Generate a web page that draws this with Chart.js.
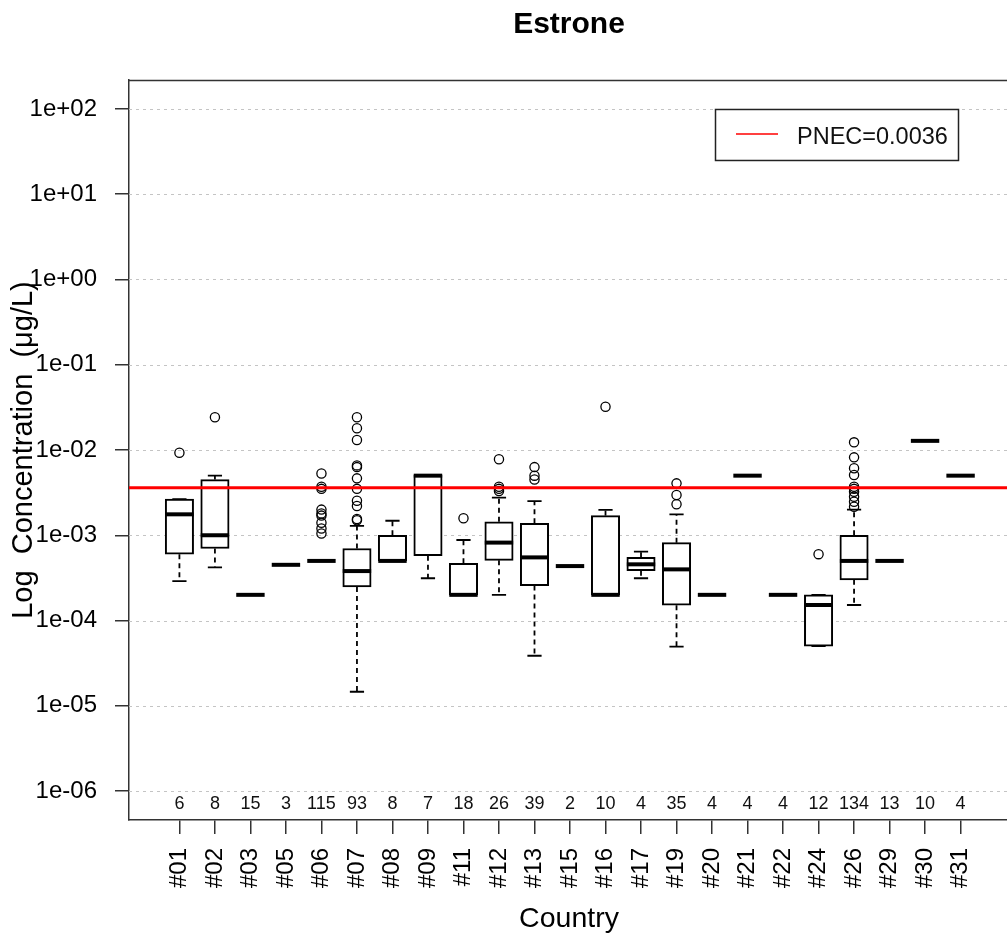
<!DOCTYPE html>
<html><head><meta charset="utf-8">
<script src="https://cdn.jsdelivr.net/npm/chart.js@4/dist/chart.umd.min.js"></script>
<style>html,body{margin:0;padding:0;background:#fff;overflow:hidden;}canvas{display:block;}</style>
</head><body>
<canvas id="c" width="1020" height="936"></canvas>
<script>
const categories = ['#01','#02','#03','#05','#06','#07','#08','#09','#11','#12','#13','#15','#16','#17','#19','#20','#21','#22','#24','#26','#29','#30','#31'];
const counts = [6,8,15,3,115,93,8,7,18,26,39,2,10,4,35,4,4,4,12,134,13,10,4];
const whiskerLow  = [2.9e-4,4.2e-4,2.0e-4,4.5e-4,5.0e-4,1.46e-5,5.0e-4,3.13e-4,2.0e-4,2.0e-4,3.86e-5,4.35e-4,2.0e-4,3.13e-4,4.93e-5,2.0e-4,5.0e-3,2.0e-4,5.0e-5,1.52e-4,5.0e-4,1.28e-2,5.0e-3];
const q1          = [6.0e-4,7.0e-4,2.0e-4,4.5e-4,5.0e-4,2.47e-4,5.0e-4,5.75e-4,2.0e-4,5.08e-4,2.57e-4,4.35e-4,2.0e-4,3.84e-4,1.51e-4,2.0e-4,5.0e-3,2.0e-4,5.0e-5,3.0e-4,5.0e-4,1.28e-2,5.0e-3];
const median      = [1.76e-3,1.0e-3,2.0e-4,4.5e-4,5.0e-4,3.8e-4,5.0e-4,5.0e-3,2.0e-4,8.2e-4,5.5e-4,4.35e-4,2.0e-4,4.56e-4,3.98e-4,2.0e-4,5.0e-3,2.0e-4,1.52e-4,5.0e-4,5.0e-4,1.28e-2,5.0e-3];
const q3          = [2.66e-3,4.5e-3,2.0e-4,4.5e-4,5.0e-4,7.0e-4,1.0e-3,5.1e-3,4.68e-4,1.44e-3,1.38e-3,4.35e-4,1.7e-3,5.51e-4,8.18e-4,2.0e-4,5.0e-3,2.0e-4,2.0e-4,1.0e-3,5.0e-4,1.28e-2,5.0e-3];
const whiskerHigh = [2.66e-3,5.0e-3,2.0e-4,4.5e-4,5.0e-4,1.29e-3,1.48e-3,5.1e-3,8.8e-4,2.76e-3,2.52e-3,4.35e-4,1.98e-3,6.41e-4,1.76e-3,2.0e-4,5.0e-3,2.0e-4,2.0e-4,2.0e-3,5.0e-4,1.28e-2,5.0e-3];
const outliers = [
  [9.3e-3],
  [2.42e-2],
  [],
  [],
  [5.3e-3,3.7e-3,3.5e-3,2.0e-3,1.8e-3,1.7e-3,1.4e-3,1.2e-3,1.05e-3],
  [2.42e-2,1.8e-2,1.31e-2,6.6e-3,6.3e-3,4.65e-3,3.5e-3,2.54e-3,2.2e-3,1.55e-3,1.5e-3],
  [],
  [],
  [1.58e-3],
  [7.8e-3,3.7e-3,3.5e-3,3.3e-3],
  [6.3e-3,5.0e-3,4.5e-3],
  [],
  [3.22e-2],
  [],
  [4.06e-3,2.96e-3,2.31e-3],
  [],
  [],
  [],
  [6.0e-4],
  [1.23e-2,8.2e-3,6.1e-3,5.1e-3,3.7e-3,3.5e-3,3.24e-3,2.83e-3,2.47e-3,2.16e-3],
  [],
  [],
  []
];
const yTickValues = [1e-6,1e-5,1e-4,1e-3,1e-2,1e-1,1e0,1e1,1e2];
const yTickLabels = ['1e-06','1e-05','1e-04','1e-03','1e-02','1e-01','1e+00','1e+01','1e+02'];
const pnec = 0.0036;
const legendLabel = 'PNEC=0.0036';
const chartTitle = 'Estrone';
const xTitle = 'Country';
const yTitle = 'Log  Concentration  (\u03bcg/L)';

const FONT = "'Liberation Sans', Arial, Helvetica, sans-serif";
const BOXW = 28.4;

const boxPlugin = {
  id: 'boxPlugin',
  beforeDatasetsDraw(chart) {
    const {ctx, chartArea: a, scales: {y}} = chart;
    ctx.save();
    ctx.strokeStyle = '#c4c4c4';
    ctx.lineWidth = 1;
    ctx.setLineDash([3, 4]);
    yTickValues.forEach(v => {
      const py = Math.round(y.getPixelForValue(v)) + 0.5;
      ctx.beginPath(); ctx.moveTo(a.left, py); ctx.lineTo(a.right, py); ctx.stroke();
    });
    ctx.restore();
  },
  afterDatasetDraw(chart, args) {
    if (args.index !== 0) return;
    const {ctx, scales: {x, y}} = chart;
    ctx.save();
    categories.forEach((c, i) => {
      const px = x.getPixelForValue(i + 1);
      const yq1 = y.getPixelForValue(q1[i]), yq3 = y.getPixelForValue(q3[i]);
      const ywl = y.getPixelForValue(whiskerLow[i]), ywh = y.getPixelForValue(whiskerHigh[i]);
      const ym = y.getPixelForValue(median[i]);
      ctx.strokeStyle = '#000';
      ctx.lineWidth = 1.8;
      ctx.setLineDash([5, 4]);
      if (ywl - yq1 > 0.5) { ctx.beginPath(); ctx.moveTo(px, yq1); ctx.lineTo(px, ywl); ctx.stroke(); }
      if (yq3 - ywh > 0.5) { ctx.beginPath(); ctx.moveTo(px, yq3); ctx.lineTo(px, ywh); ctx.stroke(); }
      ctx.setLineDash([]);
      ctx.beginPath();
      ctx.moveTo(px - BOXW / 4, ywl); ctx.lineTo(px + BOXW / 4, ywl);
      ctx.moveTo(px - BOXW / 4, ywh); ctx.lineTo(px + BOXW / 4, ywh);
      ctx.stroke();
      ctx.lineWidth = 4;
      ctx.lineCap = 'butt';
      ctx.beginPath(); ctx.moveTo(px - BOXW / 2, ym); ctx.lineTo(px + BOXW / 2, ym); ctx.stroke();
    });
    ctx.restore();
  },
  afterDraw(chart) {
    const {ctx, chartArea: a, scales: {x, y}} = chart;
    ctx.save();
    // frame top/right
    ctx.strokeStyle = '#333'; ctx.lineWidth = 1.5;
    ctx.beginPath(); ctx.moveTo(a.left, a.top + 0.5); ctx.lineTo(a.right, a.top + 0.5); ctx.lineTo(a.right, a.bottom); ctx.stroke();
    // counts
    ctx.fillStyle = '#111';
    ctx.font = '18px ' + FONT;
    ctx.textAlign = 'center'; ctx.textBaseline = 'alphabetic';
    const cy = y.getPixelForValue(1e-6) + 18;
    counts.forEach((n, i) => ctx.fillText(String(n), x.getPixelForValue(i + 1), cy));
    // legend
    const ly = y.getPixelForValue(1e2);
    ctx.fillStyle = '#fff';
    ctx.fillRect(715, ly, 243, 51);
    ctx.strokeStyle = '#222'; ctx.lineWidth = 1.5;
    ctx.strokeRect(715.5, ly + 0.5, 243, 51);
    ctx.strokeStyle = '#ff0000'; ctx.lineWidth = 1.5;
    ctx.beginPath(); ctx.moveTo(736, ly + 25); ctx.lineTo(778, ly + 25); ctx.stroke();
    ctx.fillStyle = '#111';
    ctx.font = '23.5px ' + FONT;
    ctx.textAlign = 'left';
    ctx.fillText(legendLabel, 797, ly + 35);
    // titles
    const cx = (a.left + a.right) / 2;
    ctx.fillStyle = '#000';
    ctx.textAlign = 'center';
    ctx.font = 'bold 30px ' + FONT;
    ctx.fillText(chartTitle, cx - 1, 33);
    ctx.font = '28.5px ' + FONT;
    ctx.fillText(xTitle, cx - 1, 927);
    ctx.font = '29px ' + FONT;
    ctx.translate(32, (a.top + a.bottom) / 2);
    ctx.rotate(-Math.PI / 2);
    ctx.fillText(yTitle, 0, 0);
    ctx.restore();
  }
};

new Chart(document.getElementById('c'), {
  type: 'bar',
  data: {
    datasets: [
      {
        type: 'bar',
        data: categories.map((c, i) => ({x: i + 1, y: [q1[i], q3[i]]})),
        backgroundColor: '#ffffff',
        borderColor: '#000',
        borderWidth: 2,
        borderSkipped: false,
        barThickness: BOXW,
        order: 3
      },
      {
        type: 'scatter',
        data: outliers.flatMap((arr, i) => arr.map(v => ({x: i + 1, y: v}))),
        pointStyle: 'circle',
        pointRadius: 4.6,
        pointBorderWidth: 1.3,
        pointBackgroundColor: 'rgba(0,0,0,0)',
        pointBorderColor: '#000',
        showLine: false,
        order: 2
      },
      {
        type: 'line',
        data: [{x: -0.42, y: pnec}, {x: 24.42, y: pnec}],
        borderColor: '#ff0000',
        borderWidth: 3,
        pointRadius: 0,
        fill: false,
        order: 1
      }
    ]
  },
  options: {
    responsive: false,
    animation: false,
    events: [],
    layout: {padding: {top: 80, right: 9, bottom: 0, left: 0}},
    plugins: {legend: {display: false}, title: {display: false}, tooltip: {enabled: false}},
    scales: {
      x: {
        type: 'linear', min: -0.42, max: 24.42, offset: false,
        afterBuildTicks: s => { s.ticks = categories.map((c, i) => ({value: i + 1})); },
        afterFit: s => { s.height = 116; },
        ticks: {
          autoSkip: false, minRotation: 90, maxRotation: 90, padding: 14,
          font: {family: FONT, size: 24}, color: '#000',
          callback: (v, i) => categories[i]
        },
        grid: {offset: false, drawOnChartArea: false, drawTicks: true, tickLength: 14, color: '#333', lineWidth: 1.5},
        border: {display: true, color: '#333', width: 1.5}
      },
      y: {
        type: 'logarithmic', min: Math.pow(10, -6.34), max: Math.pow(10, 2.34),
        afterBuildTicks: s => { s.ticks = yTickValues.map(v => ({value: v})); },
        afterFit: s => { s.width = 129; },
        ticks: {
          autoSkip: false, padding: 18,
          font: {family: FONT, size: 24}, color: '#000',
          callback: (v, i) => yTickLabels[i]
        },
        grid: {drawOnChartArea: false, drawTicks: true, tickLength: 14, color: '#333', lineWidth: 1.5},
        border: {display: true, color: '#333', width: 1.5}
      }
    }
  },
  plugins: [boxPlugin]
});
</script>
</body></html>
